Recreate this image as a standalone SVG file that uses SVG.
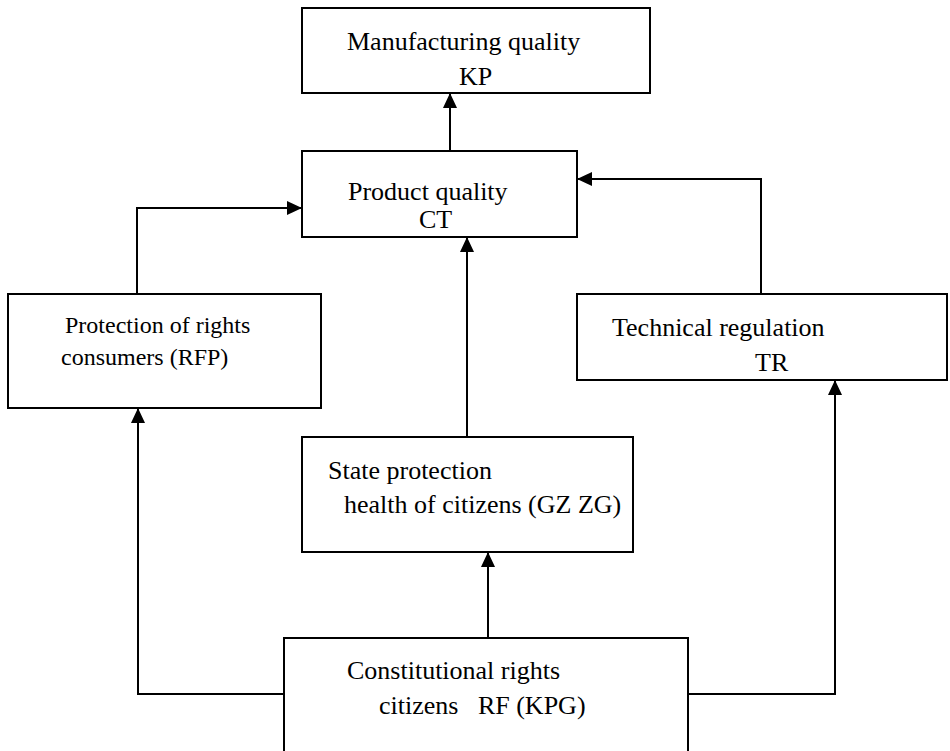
<svg xmlns="http://www.w3.org/2000/svg" width="950" height="751" viewBox="0 0 950 751">
<style>
.box{fill:#fff;stroke:#000;stroke-width:2}
.t{font-family:"Liberation Serif","Times New Roman",serif;font-size:26px;fill:#000}
.s{font-size:24px}
.c{fill:none;stroke:#000;stroke-width:2}
</style>
<defs>
<marker id="ah" viewBox="0 0 15 14" refX="15" refY="7" markerWidth="15" markerHeight="14" markerUnits="userSpaceOnUse" orient="auto">
<path d="M0,0 L15,7 L0,14 z" fill="#000"/>
</marker>
</defs>
<rect width="950" height="751" fill="#fff"/>
<g id="connectors">
<path class="c" d="M450,151 V93" marker-end="url(#ah)"/>
<path class="c" d="M137,294 V208 H302" marker-end="url(#ah)"/>
<path class="c" d="M761,294 V179 H577" marker-end="url(#ah)"/>
<path class="c" d="M467,437 V237" marker-end="url(#ah)"/>
<path class="c" d="M488,638 V552" marker-end="url(#ah)"/>
<path class="c" d="M284,694 H138 V408" marker-end="url(#ah)"/>
<path class="c" d="M688,694 H835 V380" marker-end="url(#ah)"/>
</g>
<g id="node-kp">
<rect class="box" x="302" y="8" width="348" height="85"/>
<text class="t" x="347" y="50">Manufacturing quality</text>
<text class="t" x="459" y="85">KP</text>
</g>
<g id="node-ct">
<rect class="box" x="302" y="151" width="275" height="86"/>
<text class="t" x="348" y="200">Product quality</text>
<text class="t" x="419" y="228">CT</text>
</g>
<g id="node-rfp">
<rect class="box" x="8" y="294" width="313" height="114"/>
<text class="t s" x="65" y="333">Protection of rights</text>
<text class="t s" x="61" y="365">consumers (RFP)</text>
</g>
<g id="node-tr">
<rect class="box" x="577" y="294" width="370" height="86"/>
<text class="t" x="612" y="336">Technical regulation</text>
<text class="t" x="755" y="371">TR</text>
</g>
<g id="node-gzzg">
<rect class="box" x="302" y="437" width="331" height="115"/>
<text class="t" x="328" y="479">State protection</text>
<text class="t" x="344" y="513">health of citizens (GZ ZG)</text>
</g>
<g id="node-kpg">
<rect class="box" x="284" y="638" width="404" height="130"/>
<text class="t" x="347" y="679">Constitutional rights</text>
<text class="t" x="379" y="714" xml:space="preserve">citizens   RF (KPG)</text>
</g>
</svg>
